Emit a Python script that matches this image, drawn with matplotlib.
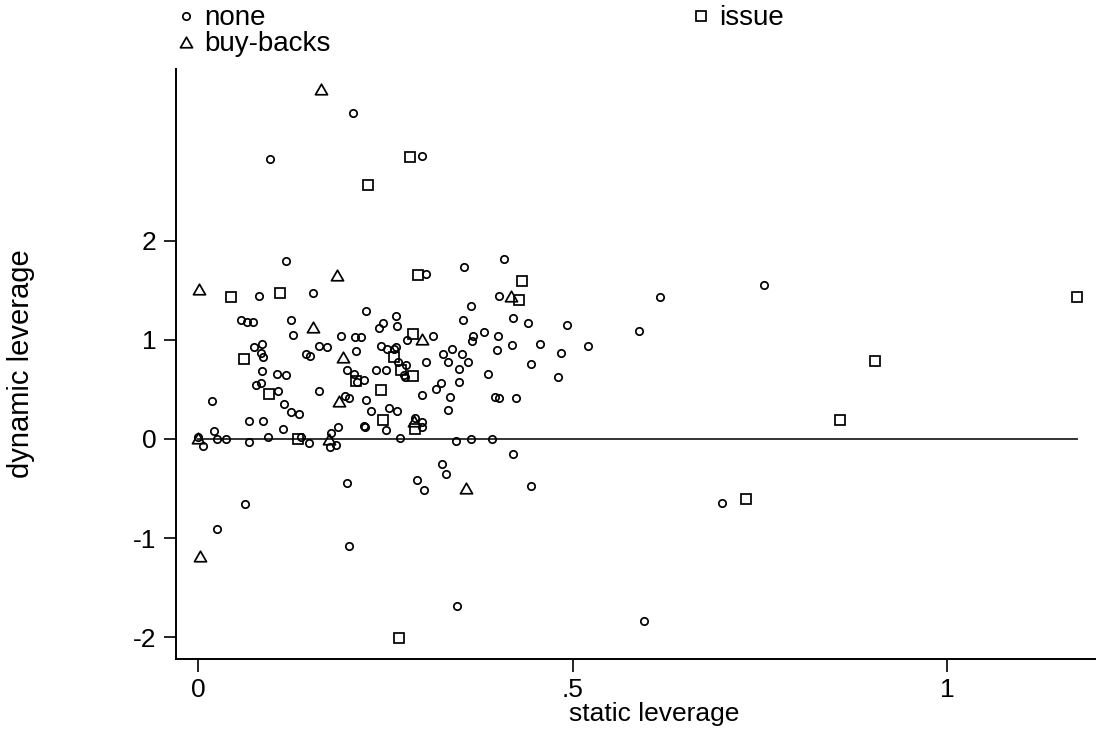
import matplotlib
matplotlib.use("Agg")
import matplotlib.pyplot as plt
from matplotlib.path import Path

plt.rcParams['font.family'] = ['Liberation Sans', 'DejaVu Sans']

# static / dynamic leverage, firms with no issue or buy-back
none_x = [0.207, 0.096, 0.299, 0.117, 0.305, 0.081, 0.154, 0.224, 0.057, 0.066,
          0.073, 0.124, 0.127, 0.247, 0.242, 0.264, 0.265, 0.314, 0.191, 0.210,
          0.218, 0.075, 0.086, 0.084, 0.087, 0.144, 0.149, 0.161, 0.172, 0.211,
          0.244, 0.252, 0.262, 0.264, 0.279, 0.267, 0.278, 0.275, 0.276, 0.305,
          0.327, 0.085, 0.105, 0.117, 0.078, 0.084, 0.107, 0.162, 0.199, 0.208,
          0.212, 0.222, 0.237, 0.251, 0.196, 0.201, 0.224, 0.299, 0.318, 0.324,
          0.336, 0.334, 0.019, 0.115, 0.124, 0.135, 0.068, 0.087, 0.113, 0.022,
          0.231, 0.255, 0.266, 0.222, 0.223, 0.251, 0.290, 0.299, 0.299, 0.187,
          0.178, 0.176, 0.184, 0.000, 0.006, 0.025, 0.037, 0.068, 0.094, 0.138,
          0.148, 0.270, 0.199, 0.063, 0.026, 0.201, 0.293, 0.302, 0.326, 0.331,
          0.409, 0.355, 0.402, 0.365, 0.354, 0.420, 0.440, 0.493, 0.589, 0.382,
          0.367, 0.366, 0.400, 0.339, 0.352, 0.334, 0.361, 0.348, 0.399, 0.419,
          0.456, 0.521, 0.485, 0.445, 0.481, 0.387, 0.348, 0.397, 0.402, 0.425,
          0.344, 0.364, 0.393, 0.421, 0.444, 0.756, 0.617, 0.700, 0.596, 0.346]
none_y = [3.29, 2.83, 2.86, 1.80, 1.67, 1.44, 1.47, 1.29, 1.20, 1.18,
          1.18, 1.20, 1.05, 1.17, 1.12, 1.24, 1.14, 1.04, 1.04, 1.03,
          1.03, 0.93, 0.96, 0.87, 0.83, 0.86, 0.84, 0.94, 0.93, 0.89,
          0.94, 0.91, 0.91, 0.93, 1.00, 0.78, 0.75, 0.65, 0.63, 0.78,
          0.86, 0.69, 0.66, 0.65, 0.55, 0.57, 0.48, 0.48, 0.70, 0.66,
          0.58, 0.60, 0.70, 0.70, 0.43, 0.41, 0.39, 0.44, 0.50, 0.57,
          0.42, 0.29, 0.38, 0.35, 0.27, 0.25, 0.18, 0.18, 0.10, 0.08,
          0.28, 0.31, 0.28, 0.13, 0.12, 0.09, 0.21, 0.175, 0.12, 0.12,
          0.06, -0.08, -0.06, 0.02, -0.07, 0.00, 0.00, -0.03, 0.02, 0.02,
          -0.04, 0.01, -0.44, -0.66, -0.91, -1.08, -0.41, -0.52, -0.25, -0.35,
          1.82, 1.74, 1.44, 1.34, 1.20, 1.22, 1.17, 1.15, 1.09, 1.08,
          1.04, 0.99, 1.04, 0.91, 0.86, 0.78, 0.78, 0.71, 0.90, 0.95,
          0.96, 0.94, 0.87, 0.76, 0.63, 0.66, 0.58, 0.42, 0.41, 0.41,
          -0.02, 0.00, 0.00, -0.15, -0.47, 1.56, 1.43, -0.65, -1.84, -1.69]

# firms that issued
issue_x = [0.283, 0.227, 0.294, 0.044, 0.110, 0.287, 0.061, 0.262, 0.271, 0.287,
           0.095, 0.211, 0.244, 0.247, 0.290, 0.134, 0.269, 0.433, 0.428, 0.904,
           0.857, 0.732, 1.173]
issue_y = [2.85, 2.57, 1.66, 1.43, 1.47, 1.06, 0.81, 0.83, 0.70, 0.64,
           0.45, 0.59, 0.49, 0.19, 0.10, 0.00, -2.01, 1.60, 1.40, 0.79,
           0.19, -0.61, 1.43]

# firms with buy-backs
buy_x = [0.164, 0.185, 0.001, 0.153, 0.299, 0.193, 0.188, 0.289, 0.175, 0.000,
         0.002, 0.418, 0.358]
buy_y = [3.54, 1.66, 1.51, 1.13, 1.01, 0.83, 0.38, 0.185, 0.00, 0.01,
         -1.18, 1.44, -0.49]

all_x = none_x + issue_x + buy_x

tri = Path([(0, 1), (-1.15, -1), (1.15, -1), (0, 1)],
           [Path.MOVETO, Path.LINETO, Path.LINETO, Path.CLOSEPOLY])

fig = plt.figure(figsize=(10.96, 7.29), dpi=100)
ax = fig.add_axes([176 / 1096, 70 / 729, 956 / 1096, 590 / 729])

ax.plot([min(all_x), max(all_x)], [0, 0], color='#333333', lw=1.4, zorder=1)

h_none, = ax.plot(none_x, none_y, 'o', ls='none', ms=5.3, mfc='none',
                  mec='black', mew=1.25, label='none')
h_issue, = ax.plot(issue_x, issue_y, 's', ls='none', ms=7.8, mfc='none',
                   mec='black', mew=1.25, label='issue')
h_buy, = ax.plot(buy_x, buy_y, marker=tri, ls='none', ms=8.7, mfc='none',
                 mec='black', mew=1.25, label='buy-backs')

ax.set_xlim(-0.0294, 1.247)
ax.set_ylim(-2.222, 3.737)

ax.set_xticks([0, 0.5, 1])
ax.set_xticklabels(['0', '.5', '1'])
ax.set_yticks([-2, -1, 0, 1, 2])
ax.set_yticklabels(['-2', '-1', '0', '1', '2'])
ax.tick_params(axis='both', direction='out', length=9, width=1.2,
               labelsize=19, pad=5)

for s in ['top', 'right']:
    ax.spines[s].set_visible(False)
for s in ['left', 'bottom']:
    ax.spines[s].set_linewidth(1.4)

ax.set_xlabel('static leverage', fontsize=19)
ax.xaxis.set_label_coords((654 - 176) / 956, -0.073)
ax.set_ylabel('dynamic leverage', fontsize=21)
ax.yaxis.set_label_coords(-0.1475, 0.5)

fig.legend([h_none, h_buy, h_issue], ['none', 'buy-backs', 'issue'],
           loc='upper left', bbox_to_anchor=(175 / 1096, 1.0 - 4 / 729), ncol=2,
           frameon=False, fontsize=20, borderpad=0.05, borderaxespad=0,
           handlelength=0.7, handletextpad=0.3, columnspacing=13.0,
           labelspacing=0.0, numpoints=1)

fig.savefig('out.png', dpi=100)
